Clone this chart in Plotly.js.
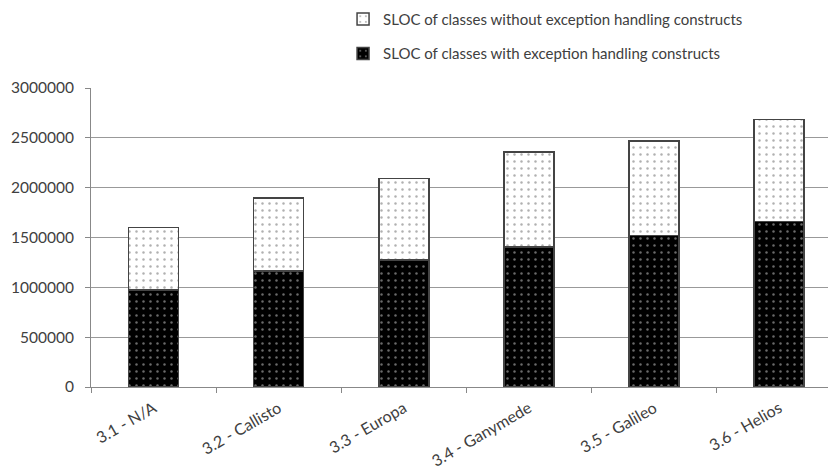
<!DOCTYPE html>
<html>
<head>
<meta charset="utf-8">
<script src="https://cdn.plot.ly/plotly-3.0.1.min.js"></script>
<style>html,body{margin:0;padding:0;background:#fff;}#chart{width:828px;height:471px;}</style>
</head>
<body>
<div id="chart"></div>
<script>
var categories = ["3.1 - N/A", "3.2 - Callisto", "3.3 - Europa", "3.4 - Ganymede", "3.5 - Galileo", "3.6 - Helios"];
var withExceptionHandling = [972000, 1163000, 1274000, 1407000, 1520000, 1662000];
var totalSloc = [1602000, 1896000, 2093000, 2357000, 2470000, 2685000];
var withoutExceptionHandling = totalSloc.map(function (t, i) { return t - withExceptionHandling[i]; });
var seriesNames = ["SLOC of classes with exception handling constructs", "SLOC of classes without exception handling constructs"];

var fontFam = "Lato, 'Open Sans', sans-serif";
var traces = [
  {
    type: "bar", x: categories, y: withExceptionHandling, name: seriesNames[0],
    legendgroup: "with", legendrank: 2,
    marker: { color: "#000000", line: { color: "#444444", width: 1.5 },
      pattern: { shape: ".", bgcolor: "#000000", fgcolor: "#6a6a6a", size: 7, solidity: 0.1 } }
  },
  {
    type: "bar", x: categories, y: withoutExceptionHandling, name: seriesNames[1],
    legendgroup: "without", legendrank: 1,
    marker: { color: "#ffffff", line: { color: "#444444", width: 1.5 },
      pattern: { shape: ".", bgcolor: "#ffffff", fgcolor: "#b0b0b0", size: 7, solidity: 0.1 } }
  }
];

var layout = {
  width: 828, height: 471,
  margin: { l: 91, r: 0, t: 88, b: 84 },
  barmode: "stack",
  bargap: 0.6,
  paper_bgcolor: "#ffffff", plot_bgcolor: "#ffffff",
  font: { family: fontFam, size: 15, color: "#404040" },
  showlegend: true,
  legend: {
    orientation: "v", traceorder: "grouped", tracegroupgap: 12,
    x: 0.342, xanchor: "left", y: 1.285, yanchor: "top",
    font: { family: fontFam, size: 15, color: "#404040" },
    itemwidth: 30, bgcolor: "rgba(0,0,0,0)"
  },
  xaxis: {
    type: "category", range: [-0.5, 5.39],
    showgrid: false, showline: true, linecolor: "#888888", linewidth: 1,
    ticks: "outside", tickson: "boundaries", ticklen: 5, tickcolor: "#888888",
    tickangle: -30, ticklabelstandoff: 5,
    tickfont: { family: fontFam, size: 16, color: "#404040" },
    fixedrange: true
  },
  yaxis: {
    range: [0, 3000000], dtick: 500000, tickformat: "d",
    showgrid: true, gridcolor: "#999999", gridwidth: 1,
    showline: true, linecolor: "#888888", linewidth: 1,
    ticks: "outside", ticklen: 5, tickcolor: "#888888", ticklabelstandoff: 8,
    tickfont: { family: fontFam, size: 15.5, color: "#404040" },
    zeroline: false, fixedrange: true
  }
};

Plotly.newPlot("chart", traces, layout, { displayModeBar: false, staticPlot: true });
</script>
</body>
</html>
